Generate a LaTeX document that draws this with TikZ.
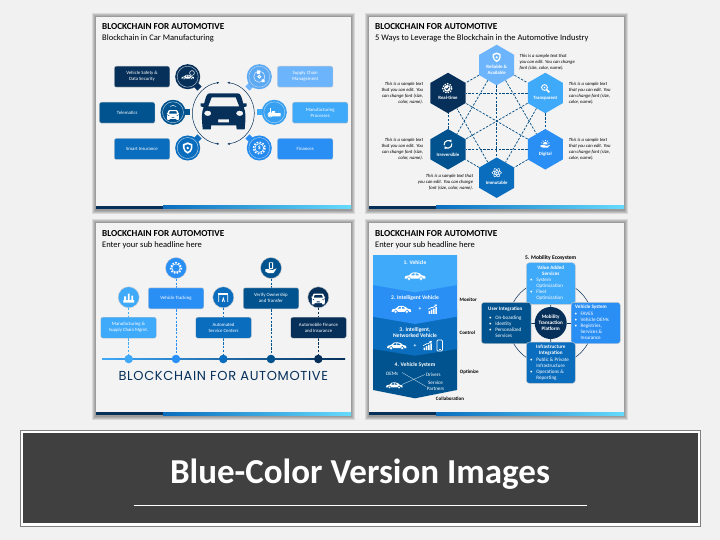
\documentclass[tikz,border=0pt]{standalone}
\usepackage{fontspec}
\setmainfont{Carlito}
\newfontfamily\bannerfont{Poppins}[LetterSpace=5]
\usepackage{xcolor}
\definecolor{blau_1}{RGB}{108,180,251}
\definecolor{blau_2}{RGB}{63,169,250}
\definecolor{blau_3}{RGB}{42,143,245}
\definecolor{blau_4}{RGB}{10,109,190}
\definecolor{blau_5}{RGB}{0,83,143}
\definecolor{blau_6}{RGB}{6,48,90}
\definecolor{slidegrey}{RGB}{243,243,243}
\definecolor{pagegrey}{RGB}{241,241,241}
\definecolor{bandgrey}{RGB}{64,64,64}
\usetikzlibrary{positioning}
\usetikzlibrary{shapes.geometric}
\usetikzlibrary{arrows.meta}
\pgfdeclarelayer{slidelayer}
\pgfdeclarelayer{edgelayer}
\pgfsetlayers{slidelayer,edgelayer,main}
\newcommand{\tinyfont}{\fontsize{4.8}{6}\selectfont}
\newcommand{\listfont}{\fontsize{5.1}{6}\selectfont}
\newcommand{\slidepanel}[4]{%
  \begin{pgfonlayer}{slidelayer}
  \foreach \s in {4,3,2,1} {\fill[black, opacity=.1] (#1-\s,#2-\s) rectangle (#3+\s,#4+\s+.6);}
  \fill[slidegrey] (#1,#2) rectangle (#3,#4);
  \fill[blau_6] (#1,#4-3) rectangle (#1+67,#4);
  \shade[left color=blau_4, right color=blau_2!60!cyan!70] (#1+67,#4-3) rectangle (#3,#4);
  \end{pgfonlayer}}
\tikzset{
  slidetitle/.style={anchor=west, inner sep=0, font=\fontsize{9.2}{10}\selectfont\bfseries},
  slidesub/.style={anchor=west, inner sep=0, font=\fontsize{8.5}{10}\selectfont},
  mybox/.style={rectangle, rounded corners=2pt, fill=#1, draw=gray!40, line width=.4pt, text=white,
    minimum width=55.5pt, minimum height=21pt, inner sep=0, align=center, font=\tinyfont},
  ringdisc/.style={circle, minimum size=21pt, inner sep=0, fill=#1, draw=white!65!#1, line width=.5pt,
    preaction={draw=#1, line width=4pt}},
  tabpt/.style={rectangle, fill=#1, minimum size=6pt, inner sep=0},
  hexa/.style={regular polygon, regular polygon sides=6, shape border rotate=30, minimum size=40.5pt,
    inner sep=0, fill=#1},
  hexlabel/.style={text=white, inner sep=0, align=center, font=\tinyfont\bfseries},
  sampletext/.style={inner sep=0, font=\fontsize{4.7}{6}\selectfont\itshape, align=#1},
  mydash/.style={draw=#1, line width=.7pt, dash pattern=on 2.4pt off 1.4pt},
  timedisc/.style={circle, minimum size=21pt, inner sep=0, fill=#1, draw=gray!40, line width=.4pt},
  timedot/.style={circle, minimum size=8.6pt, inner sep=0, fill=#1},
  bandlabel/.style={text=white, inner sep=0, align=center, font=\fontsize{5.6}{6.6}\selectfont\bfseries},
  sidelabel/.style={inner sep=0, font=\fontsize{5}{6}\selectfont\bfseries},
  whitetext/.style={text=white, inner sep=0, font=\listfont},
  % ---
  frontcar/.pic={
    \fill[pic actions, even odd rule] (-14,-18) -- (14,-18) .. controls (17,-18) and (18,-14) .. (19.5,-8)
      -- (23,-8) -- (23,-5) -- (20,-4) .. controls (22,0) and (22,6) .. (21.5,12) -- (21,18) -- (13,18) -- (12.5,14)
      -- (-12.5,14) -- (-13,18) -- (-21,18) -- (-21.5,12) .. controls (-22,6) and (-22,0) .. (-20,-4)
      -- (-23,-5) -- (-23,-8) -- (-19.5,-8) .. controls (-18,-14) and (-17,-18) .. (-14,-18) -- cycle
      (-12,-14) -- (12,-14) -- (15.5,-5) -- (-15.5,-5) -- cycle
      (-16,2) ellipse (3.6 and 2.7) (16,2) ellipse (3.6 and 2.7)
      (-5.5,8) rectangle (5.5,11);},
  sidecar/.pic={
    \fill[white, even odd rule] (-14,3.5) .. controls (-15,0) and (-12,-.5) .. (-8,-1) -- (-4,-4.5)
      .. controls (0,-5.5) and (3,-5) .. (6,-3.5) -- (9,-1) .. controls (13,-.5) and (15,0) .. (14,3.5) -- cycle
      (-5.5,-1) -- (-3,-3.5) -- (-.5,-3.7) -- (-.5,-1) -- cycle (.7,-3.7) -- (3.5,-3) -- (6,-1) -- (.7,-1) -- cycle;
    \filldraw[pic actions, fill=white] (-8,3.5) circle (2.6) (8,3.5) circle (2.6);},
  shieldpic/.pic={
    \fill[white, even odd rule] (0,-6) -- (5,-4) -- (5,0) .. controls (5,3) and (2,5) .. (0,6)
      .. controls (-2,5) and (-5,3) .. (-5,0) -- (-5,-4) -- cycle
      (0,-4) -- (3.3,-2.8) -- (3.3,0) .. controls (3.3,2) and (1.5,3.3) .. (0,4)
      .. controls (-1.5,3.3) and (-3.3,2) .. (-3.3,0) -- (-3.3,-2.8) -- cycle;
    \fill[white] (0,0) circle (1.5);},
  gearpic/.pic={
    \draw[white, line width=1.5pt, dash pattern=on 1.6pt off 1.4pt] (0,0) circle (6);
    \draw[white, line width=.6pt] (0,0) circle (4.6);},
  lenspic/.pic={
    \draw[white, line width=.9pt] (-1,-1) circle (3.6);
    \draw[white, line width=1.6pt] (1.8,1.8) -- (5,5);
    \fill[white] (-1,-1) circle (1.2);},
  cyclepic/.pic={
    \draw[white, line width=1.1pt, -{Latex[length=2.6pt, width=3.2pt]}] (-4.8,1) arc (170:330:4.9);
    \draw[white, line width=1.1pt, -{Latex[length=2.6pt, width=3.2pt]}] (4.8,-1) arc (-10:150:4.9);},
  checkpic/.pic={
    \draw[white, line width=1.3pt, dash pattern=on 1.4pt off 1.2pt] (0,0) circle (5.4);
    \fill[white] (0,0) circle (3.9);
    \draw[pic actions, line width=.9pt] (-2,0) -- (-.5,1.6) -- (2.2,-1.8);},
  sunpic/.pic={
    \fill[white] (-3,0) arc (180:360:3) -- cycle;
    \foreach \a in {200,235,270,305,340} {\draw[white, line width=.6pt] (\a:4) -- (\a:5.6);}
    \fill[white] (-6,1) -- (-2,1) .. controls (0,1) and (1,2) .. (2,2) -- (6,.8) -- (3,4.2) -- (-3,4.2) -- (-6,3) -- cycle;},
  atompic/.pic={
    \foreach \a in {0,60,120} {\draw[white, line width=.5pt, rotate=\a] (0,0) ellipse (6 and 2.3);}
    \fill[white] (0,0) circle (1.2);},
  chartpic/.pic={
    \fill[white] (-6,2.5) rectangle (-4,6) (-3,.5) rectangle (-1,6) (0,-1) rectangle (2,6) (3,-3) rectangle (5,6);
    \draw[white, line width=.7pt, -{Latex[length=2.4pt, width=2.8pt]}] (-6.5,0) -- (-2,-2.5) -- (0,-2.5) -- (5.5,-6.5);},
  phonepic/.pic={
    \draw[white, line width=.7pt, rounded corners=1pt] (-3.2,-6.5) rectangle (3.2,6.5);
    \draw[white, line width=.7pt] (-1,5) -- (1,5);},
  handpic/.pic={
    \fill[white, rounded corners=.4pt] (-2.8,-7) rectangle (2.8,1);
    \fill[pic actions] (-1.8,-5.8) rectangle (1.8,-.6);
    \fill[white] (-7,1.5) -- (-3,1.5) .. controls (-1,1.5) and (0,2.6) .. (2,2.6) -- (7,.5) -- (3,6.5) -- (-3,6.5) -- (-7,4.5) -- cycle;},
  gatepic/.pic={
    \draw[white, line width=.8pt] (-6,6) -- (-6,-3) (6,6) -- (6,-3) (-1.5,6) -- (0,1) -- (1.5,6);
    \fill[white] (-6.6,-6) rectangle (6.6,-2.6);},
  boxpic/.pic={
    \fill[white] (-7.5,1) rectangle (8,5) (-3,-1.5) rectangle (1,1);
    \draw[white, line width=.6pt] (-5,1) -- (-5,-5);
    \draw[white, line width=.6pt] (-5,3) circle (3);},
  docpic/.pic={
    \draw[white, line width=.4pt] (0,0) circle (6.2);
    \fill[white] (-2.6,-7) rectangle (1,-3) (2.5,3) rectangle (6,6);
    \draw[white, line width=.9pt] (0,0) circle (1.6);},
  factorypic/.pic={
    \fill[white] (-6,3) rectangle (6,6) (-5,-1) rectangle (-3,3) (-1,-4) rectangle (1,3) (3,-2) rectangle (5,3);},
}

\begin{document}
\begin{tikzpicture}[x=1pt, y=-1pt]
\useasboundingbox (0,0) rectangle (720,540);
\begin{pgfonlayer}{slidelayer}
\fill[pagegrey] (0,0) rectangle (720,540);
\end{pgfonlayer}

\slidepanel{96}{17}{351}{209}
\slidepanel{369}{17}{624}{209}
\slidepanel{96}{223}{351}{415}
\slidepanel{369}{223}{624}{415}

% --- upper left
\node[slidetitle] (TitleA) at (102,27) {BLOCKCHAIN FOR AUTOMOTIVE};
\node[slidesub] (SubA) at (102,38.2) {Blockchain in Car Manufacturing};

\node[mybox=blau_6] (SafetyBox) at (142,76.7) {Vehicle Safety \&\\Data Security};
\node[mybox=blau_5] (TeleBox) at (127.2,112.7) {Telematics};
\node[mybox=blau_4] (InsurBox) at (142,149) {Smart Insurance};
\node[mybox=blau_1] (SupplyBox) at (305.2,76.7) {Supply Chain\\Management};
\node[mybox=blau_2] (MfgBox) at (320.2,112.7) {Manufacturing\\Processes};
\node[mybox=blau_3] (FinBox) at (305.2,149) {Finances};

\node[tabpt=blau_6, rotate=45] (SafetyTab) at (197.5,86.5) {};
\node[tabpt=blau_5] (TeleTab) at (187,112.3) {};
\node[tabpt=blau_4, rotate=45] (InsurTab) at (197.5,138.5) {};
\node[tabpt=blau_1, rotate=45] (SupplyTab) at (249.5,86.5) {};
\node[tabpt=blau_2] (MfgTab) at (260,112.3) {};
\node[tabpt=blau_3, rotate=45] (FinTab) at (249.5,138.5) {};

\node[ringdisc=blau_6] (SafetyIcon) at (187.7,76.7) {};
\node[ringdisc=blau_5] (TeleIcon) at (173,112.3) {};
\node[ringdisc=blau_4] (InsurIcon) at (187.7,148) {};
\node[ringdisc=blau_1!85!blau_4] (SupplyIcon) at (259.3,76.7) {};
\node[ringdisc=blau_2!85!blau_4] (MfgIcon) at (274.3,112.3) {};
\node[ringdisc=blau_3!85!blau_4] (FinIcon) at (259.3,148) {};

\pic[scale=.45, draw=blau_6] at (187.7,77) {sidecar};
\draw[white, line width=.5pt] (192,73) circle (2.4);
\pic[fill=white, scale=.27] at (173,115) {frontcar};
\draw[white, line width=.5pt] (170,106.5) .. controls (171.5,105) and (174.5,105) .. (176,106.5);
\pic[scale=.95] at (187.7,148) {shieldpic};
\pic[scale=.9] at (259.3,76.7) {docpic};
\pic[scale=.8] at (274.3,112.3) {boxpic};
\pic[scale=.95] at (259.3,148) {gearpic};
\node[text=white, inner sep=0, font=\fontsize{6}{6}\selectfont\bfseries] (FinSign) at (259.3,148) {\$};

% ---
\node[circle, minimum size=62pt, inner sep=0] (Hub) at (223.3,113.3) {};
\draw[blau_6, line width=.5pt, {Latex[length=2.6pt, width=2.2pt]}-{Latex[length=2.6pt, width=2.2pt]}] (Hub.center) ++(97:31) arc (97:263:31);
\draw[blau_6, line width=.5pt, {Latex[length=2.6pt, width=2.2pt]}-{Latex[length=2.6pt, width=2.2pt]}] (Hub.center) ++(83:31) arc (83:-83:31);
\pic[fill=blau_6] at (223.7,111.3) {frontcar};

% --- upper right
\node[slidetitle] (TitleB) at (375,27) {BLOCKCHAIN FOR AUTOMOTIVE};
\node[slidesub] (SubB) at (375,38.2) {5 Ways to Leverage the Blockchain in the Automotive Industry};

\node[hexa=blau_1] (Rel) at (496.7,65) {};
\node[hexa=blau_2] (Tra) at (545.3,93) {};
\node[hexa=blau_3] (Dig) at (545.3,149.3) {};
\node[hexa=blau_4] (Imm) at (496.7,177.7) {};
\node[hexa=blau_5] (Irr) at (448,149.3) {};
\node[hexa=blau_6] (Rea) at (448,93) {};

\begin{pgfonlayer}{edgelayer}
\foreach \a/\b in {Rel/Tra,Rel/Dig,Rel/Imm,Rel/Irr,Rel/Rea,Tra/Dig,Tra/Imm,Tra/Irr,Tra/Rea,Dig/Imm,Dig/Irr,Dig/Rea,Imm/Irr,Imm/Rea,Irr/Rea}
  \draw[mydash=blau_5!80!blau_6] (\a) -- (\b);
\end{pgfonlayer}

\pic[scale=.8] at (496.7,57.3) {shieldpic};
\pic[scale=.8] at (545.3,88.3) {lenspic};
\pic[scale=.8] at (545.3,144.3) {sunpic};
\pic[scale=.8] at (496.7,172.7) {atompic};
\pic[scale=.8] at (448,144.3) {cyclepic};
\pic[scale=.85, draw=blau_6] at (447.3,88.3) {checkpic};

\node[hexlabel] (RelText) at (496.7,69.7) {Reliable \&\\Available};
\node[hexlabel] (TraText) at (545.3,98.3) {Transparent};
\node[hexlabel] (DigText) at (545.3,154.7) {Digital};
\node[hexlabel] (ImmText) at (496.7,183.3) {Immutable};
\node[hexlabel] (IrrText) at (448,155.3) {Irreversible};
\node[hexlabel] (ReaText) at (448,98.3) {Real-time};

\node[sampletext=left, anchor=west] (RelNote) at (519.3,61.8) {This is a sample text that\\you can edit. You can change\\font (size, color, name).};
\node[sampletext=left, anchor=west] (TraNote) at (568.7,93.3) {This is a sample text\\that you can edit. You\\can change font (size,\\color, name).};
\node[sampletext=left, anchor=west] (DigNote) at (568.7,149.5) {This is a sample text\\that you can edit. You\\can change font (size,\\color, name).};
\node[sampletext=right, anchor=east] (ReaNote) at (423.3,93.3) {This is a sample text\\that you can edit. You\\can change font (size,\\color, name).};
\node[sampletext=right, anchor=east] (IrrNote) at (423.3,149.5) {This is a sample text\\that you can edit. You\\can change font (size,\\color, name).};
\node[sampletext=right, anchor=east] (ImmNote) at (473.3,182) {This is a sample text that\\you can edit. You can change\\font (size, color, name).};

% --- lower left
\node[slidetitle] (TitleC) at (102,234) {BLOCKCHAIN FOR AUTOMOTIVE};
\node[slidesub] (SubC) at (102,245) {Enter your sub headline here};

\shade[left color=blau_2, right color=blau_6] (102,358.2) rectangle (345,359.8);

\node[timedot=blau_2] (DotA) at (128.7,359) {};
\node[timedot=blau_3] (DotB) at (176,359) {};
\node[timedot=blau_4] (DotC) at (223.3,359) {};
\node[timedot=blau_5] (DotD) at (271,359) {};
\node[timedot=blau_6] (DotE) at (318.3,359) {};

\node[timedisc=blau_2] (DiscA) at (128.7,297.3) {};
\node[timedisc=blau_3] (DiscB) at (176,268) {};
\node[timedisc=blau_4] (DiscC) at (223.3,297.3) {};
\node[timedisc=blau_5] (DiscD) at (271,268) {};
\node[timedisc=blau_6] (DiscE) at (318.3,297.3) {};

\begin{pgfonlayer}{edgelayer}
\draw[mydash=blau_2, line width=1pt] (DiscA) -- (DotA);
\draw[mydash=blau_3, line width=1pt] (DiscB) -- (DotB);
\draw[mydash=blau_4, line width=1pt] (DiscC) -- (DotC);
\draw[mydash=blau_5, line width=1pt] (DiscD) -- (DotD);
\draw[mydash=blau_6, line width=1pt] (DiscE) -- (DotE);
\end{pgfonlayer}

\node[mybox=blau_2] (TimeA) at (128.5,327.7) {Manufacturing \&\\Supply Chain Mgmt.};
\node[mybox=blau_3] (TimeB) at (176,298.3) {Vehicle Tracking};
\node[mybox=blau_4] (TimeC) at (223.5,327.7) {Automated\\Service Centers};
\node[mybox=blau_5] (TimeD) at (271,298.3) {Verify Ownership\\and Transfer};
\node[mybox=blau_6] (TimeE) at (318.5,327.7) {Automobile Finance\\and Insurance};

\pic[scale=.9] at (128.7,297.3) {factorypic};
\pic[scale=.9] at (176,268) {gearpic};
\pic[fill=blau_5, scale=.8] at (271,268) {handpic};
\pic[scale=.75] at (223.3,297.3) {gatepic};
\pic[fill=white, scale=.3] at (318.3,299) {frontcar};

\node[text=blau_6, inner sep=0, font=\bannerfont\fontsize{13}{14}\selectfont] (BigTitle) at (223.3,376) {BLOCKCHAIN FOR AUTOMOTIVE};

% --- lower right
\node[slidetitle] (TitleD) at (375,234) {BLOCKCHAIN FOR AUTOMOTIVE};
\node[slidesub] (SubD) at (375,245) {Enter your sub headline here};

\fill[blau_5] (373,340) -- (457,340) -- (457,390) -- (415,398.3) -- (373,390) -- cycle;
\fill[blau_4] (373,310) -- (457,310) -- (457,349) -- (415,355.7) -- (373,349) -- cycle;
\fill[blau_3] (373,280) -- (457,280) -- (457,316.7) -- (415,324) -- (373,316.7) -- cycle;
\fill[blau_2] (373,255) -- (457,255) -- (457,285) -- (415,292.3) -- (373,285) -- cycle;

\node[bandlabel] (BandA) at (415,262.7) {1. Vehicle};
\node[bandlabel] (BandB) at (415,297.7) {2. Intelligent Vehicle};
\node[bandlabel] (BandC) at (415,332.7) {3. Intelligent,\\Networked Vehicle};
\node[bandlabel] (BandD) at (415,365.3) {4. Vehicle System};

\pic[draw=blau_2, scale=.75] at (415,276) {sidecar};
\pic[draw=blau_3, scale=.7] at (401.3,309.3) {sidecar};
\pic[draw=blau_4, scale=.7] at (396.7,345.7) {sidecar};
\pic[draw=blau_5, scale=.6] at (394.3,385.3) {sidecar};
\pic[scale=.75] at (433,309.3) {chartpic};
\pic[scale=.75] at (428,345.7) {chartpic};
\pic[scale=.85] at (439.7,345.5) {phonepic};
\node[bandlabel] (PlusA) at (420,309.3) {+};
\node[bandlabel] (PlusB) at (415,345.7) {+};

\node[whitetext] (Oems) at (392,374.3) {OEMs};
\node[whitetext] (Drivers) at (433.3,375) {Drivers};
\node[whitetext, align=center] (Partners) at (435.5,386) {Service\\Partners};
\coordinate (CrossA) at (402,372.5);
\coordinate (CrossB) at (426,386.5);
\coordinate (CrossC) at (425,374.5);
\coordinate (CrossD) at (402,384.5);
\draw[white!80!blau_5, line width=.35pt] (CrossA) -- (CrossB);
\draw[white!80!blau_5, line width=.35pt] (CrossC) -- (CrossD);

\node[sidelabel] (Monitor) at (468.3,299.3) {Monitor};
\node[sidelabel] (Control) at (467.3,332.3) {Control};
\node[sidelabel] (Optimize) at (469.3,371.7) {Optimize};
\node[sidelabel] (Collab) at (450,399) {Collaboration};
\node[sidelabel, font=\fontsize{5.6}{6}\selectfont\bfseries] (EcoTitle) at (550.7,258) {5. Mobility Ecosystem};

% ---
\node[mybox=blau_2, minimum width=49pt, minimum height=41.6pt, rounded corners=3pt] (Value) at (550.8,283.5) {};
\node[mybox=blau_5, minimum width=49.7pt, minimum height=41.4pt, rounded corners=3pt] (User) at (506.2,323) {};
\node[mybox=blau_3, minimum width=49.3pt, minimum height=41.4pt, rounded corners=3pt] (VehSys) at (595.7,323) {};
\node[mybox=blau_4, minimum width=49pt, minimum height=41.3pt, rounded corners=3pt] (Infra) at (550.8,362.7) {};
\node[circle, minimum size=32pt, inner sep=0, fill=blau_6, text=white, align=center, font=\listfont\bfseries] (Platform) at (550.7,323) {Mobility\\Transaction\\Platform};

\begin{pgfonlayer}{edgelayer}
\node[circle, minimum size=85pt, inner sep=0, draw=blau_6, line width=.5pt] (EcoRing) at (550.7,322.7) {};
\draw[blau_6, line width=.7pt] (Platform) -- (Value);
\draw[blau_6, line width=.7pt] (Platform) -- (User);
\draw[blau_6, line width=.7pt] (Platform) -- (VehSys);
\draw[blau_6, line width=.7pt] (Platform) -- (Infra);
\end{pgfonlayer}

\node[whitetext, align=center, font=\listfont\bfseries] (ValueHead) at (550.8,270.3) {Value Added\\Services};
\node[whitetext, anchor=west] (ValueList) at (530,289.3) {\begin{tabular}{@{}l@{\hspace{3.6pt}}l@{}}\textbullet & System\\ & Optimization\\ \textbullet & Fleet\\ & Optimization\end{tabular}};
\node[whitetext, font=\listfont\bfseries] (UserHead) at (505.3,309) {User Integration};
\node[whitetext, anchor=west] (UserList) at (489,327) {\begin{tabular}{@{}l@{\hspace{3.6pt}}l@{}}\textbullet & On-boarding\\ \textbullet & Identity\\ \textbullet & Personalized\\ & Services\end{tabular}};
\node[whitetext, font=\listfont\bfseries] (VehHead) at (591,307) {Vehicle System};
\node[whitetext, anchor=west] (VehList) at (574.3,326.5) {\begin{tabular}{@{}l@{\hspace{3.6pt}}l@{}}\textbullet & FAVES\\ \textbullet & Vehicle OEMs\\ \textbullet & Registries,\\ & Services \&\\ & Insurance\end{tabular}};
\node[whitetext, align=center, font=\listfont\bfseries] (InfraHead) at (550.8,350) {Infrastructure\\Integration};
\node[whitetext, anchor=west] (InfraList) at (530,369) {\begin{tabular}{@{}l@{\hspace{3.6pt}}l@{}}\textbullet & Public \& Private\\ & Infrastructure\\ \textbullet & Operations \&\\ & Reporting\end{tabular}};

% --- banner
\node[rectangle, minimum width=680pt, minimum height=95.4pt, inner sep=0, fill=white, draw=gray, line width=.8pt] (BannerEdge) at (360.5,478.3) {};
\node[rectangle, minimum width=674.5pt, minimum height=90pt, inner sep=0, fill=bandgrey] (Banner) at (360.5,478.3) {};
\node[text=white, inner sep=0, font=\fontsize{35}{40}\selectfont\bfseries] (BannerText) at (360,474.5) {Blue-Color Version Images};
\coordinate (RuleA) at (133.6,505.3);
\coordinate (RuleB) at (587,505.3);
\draw[white, line width=.7pt] (RuleA) -- (RuleB);

\end{tikzpicture}
\end{document}
